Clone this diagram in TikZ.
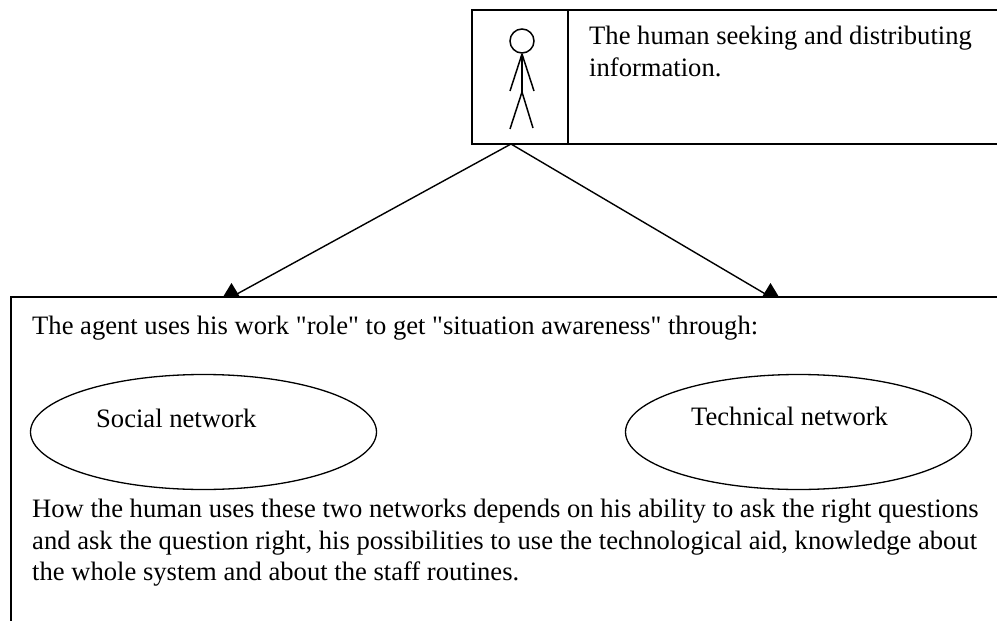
\documentclass[tikz,border=0pt]{standalone}
\usepackage{fontspec}
\setmainfont{Liberation Serif}[Ligatures=TeXOff]
\usetikzlibrary{shapes.geometric}
\tikzset{
  frame/.style={draw,line width=1.6pt,rectangle,outer sep=0pt,anchor=north west},
  oval/.style={draw,line width=1.3pt,ellipse,minimum width=346pt,minimum height=115pt},
  txt/.style={inner sep=0pt,anchor=north west,align=left,font=\fontsize{26.6}{31.5}\selectfont},
  limb/.style={line width=1.5pt},
  link/.style={line width=1.4pt}
}
\newcommand{\tip}[1]{\fill (#1) ++(-8.5,0) -- ++(8.5,-14) -- ++(8.5,14) -- cycle;}
\begin{document}
\begin{tikzpicture}[x=1pt,y=-1pt]
\clip[use as bounding box] (0,0) rectangle (997,621);
\node[frame,minimum width=96pt,minimum height=134pt] (figbox) at (472,10) {};
\node[frame,minimum width=460pt,minimum height=134pt] (infobox) at (568,10) {};
\node[frame,minimum width=1020pt,minimum height=360pt] (agentbox) at (11,297) {};
\node[txt] (humantext) at (589,26) {The human seeking and distributing\\information.};
\node[txt] (agenttext) at (32,316) {The agent uses his work "role" to get "situation awareness" through:};
\node[oval] (social) at (203.5,432) {};
\node[oval] (technical) at (798.5,432) {};
\node[txt] (socialtext) at (96,409) {Social network};
\node[txt] (technicaltext) at (691,407) {Technical network};
\node[txt] (bodytext) at (32,499) {How the human uses these two networks depends on his ability to ask the right questions\\and ask the question right, his possibilities to use the technological aid, knowledge about\\the whole system and about the staff routines.};
% stick figure
\node[draw,line width=1.5pt,circle,minimum size=24pt,inner sep=0pt] (head) at (522,41) {};
\coordinate (neck) at (522,54);
\coordinate (hip) at (522,92);
\draw[limb] (head.south) -- (hip);
\draw[limb] (neck) -- (510,91);
\draw[limb] (neck) -- (534,91);
\draw[limb] (hip) -- (510,129);
\draw[limb] (hip) -- (533,128);
% arrows
\coordinate (apex) at (511,144);
\coordinate (left) at (231.5,297);
\coordinate (right) at (770.5,297);
\draw[link] (apex) -- (left);
\draw[link] (apex) -- (right);
\tip{left}
\tip{right}
\end{tikzpicture}
\end{document}
